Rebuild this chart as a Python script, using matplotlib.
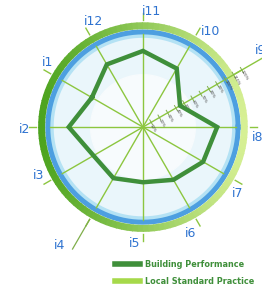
import matplotlib.pyplot as plt
import numpy as np
from matplotlib.lines import Line2D

# indicators, counter-clockwise starting upper left
labels = ['i1', 'i2', 'i3', 'i4', 'i5', 'i6', 'i7', 'i8', 'i9', 'i10', 'i11', 'i12']
angles_deg = [150, 180, 210, 240, 270, 300, 330, 0, 30, 60, 90, 120]
building = [0.62, 0.78, 0.60, 0.62, 0.58, 0.64, 0.73, 0.78, 0.45, 0.71, 0.80, 0.76]
local_std = 1.065
scale_ticks = [0.1, 0.2, 0.3, 0.4, 0.5, 0.6, 0.7, 0.8, 0.9, 1.0, 1.1, 1.2]
scale_labels = ['10%', '20%', '30%', '40%', '50%', '60%', '70%', '80%', '90%', '100%', '110%', '120%']

theta = np.deg2rad(angles_deg)

fig = plt.figure(figsize=(2.62, 2.88), dpi=100)
ax = fig.add_axes([0.0916, 0.1458, 0.908, 0.826], projection='polar')
ax.set_ylim(0, 1.25)
ax.set_axis_off()

full = np.linspace(0, 2 * np.pi, 361)

# pale interior
ax.fill(full, np.full_like(full, 0.99), color='#eaf6fb', zorder=0)
ax.fill(full, np.full_like(full, 0.55), color='#f7fbfd', zorder=0)
ax.plot(full, np.full_like(full, 0.96), color='#b4e2f4', lw=3, zorder=1)
# blue boundary ring
ax.plot(full, np.full_like(full, 1.0), color='#4d9fe0', lw=3.6, zorder=2)

# local standard practice ring, dark green on the left fading to pale on the right
dark = np.array([0.30, 0.64, 0.12])
pale = np.array([0.84, 0.94, 0.58])
n = 120
for k in range(n):
    t = np.linspace(2 * np.pi * k / n, 2 * np.pi * (k + 1) / n + 0.01, 5)
    w = (1 - np.cos(t.mean())) / 2
    c = pale + (dark - pale) * w
    ax.plot(t, np.full_like(t, local_std), color=c, lw=5, solid_capstyle='butt', zorder=2)

# spokes
for a in theta:
    ax.plot([a, a], [0, 0.98], color='#8cc63f', lw=1.0, zorder=3)
    ax.plot([a, a], [1.12, 1.2], color='#8cc63f', lw=1.0, zorder=3)
# longer spokes at i4 and i9
ax.plot([np.deg2rad(240)] * 2, [1.12, 1.48], color='#7fae4a', lw=0.9, zorder=3, clip_on=False)
ax.plot([np.deg2rad(30)] * 2, [1.0, 1.5], color='#8cc63f', lw=1.0, zorder=3, clip_on=False)

# percentage scale on the i9 axis
a9 = np.deg2rad(30)
for v, s in zip(scale_ticks, scale_labels):
    x, y = v * np.cos(a9), v * np.sin(a9)
    px, py = -np.sin(a9) * 0.03, np.cos(a9) * 0.03
    r1, t1 = np.hypot(x + px, y + py), np.arctan2(y + py, x + px)
    r2, t2 = np.hypot(x - px, y - py), np.arctan2(y - py, x - px)
    ax.plot([t1, t2], [r1, r2], color='#7fae4a', lw=0.7, zorder=4, clip_on=False)
    ax.text(a9 - 0.065 / max(v, 0.1), v, s, fontsize=2.9, rotation=-60,
            ha='center', va='center', color='#444444', zorder=4, clip_on=False)

# building performance polygon
ax.plot(np.append(theta, theta[0]), np.append(building, building[0]),
        color='#3f8f3a', lw=3.2, solid_joinstyle='miter', zorder=5)

# indicator labels
label_r = [1.21, 1.24, 1.21, 1.52, 1.23, 1.22, 1.21, 1.21, 1.47, 1.23, 1.22, 1.22]
label_a = [146, 181, 205, 235, 266, 294, 325, -5, 33, 55, 86, 115]
for s, a, r in zip(labels, label_a, label_r):
    ax.text(np.deg2rad(a), r, s, fontsize=9, color='#2f73d0',
            ha='center', va='center', clip_on=False)

handles = [Line2D([], [], color='#3f8f3a', lw=4),
           Line2D([], [], color='#a6d94a', lw=4)]
leg = fig.legend(handles, ['Building Performance', 'Local Standard Practice'],
                 loc='lower left', bbox_to_anchor=(0.42, -0.01), frameon=False,
                 fontsize=5.9, handlelength=3.0, handletextpad=0.7,
                 labelspacing=0.95, borderaxespad=0.2)
for t in leg.get_texts():
    t.set_color('#3f8f3a')
    t.set_fontweight('bold')

fig.savefig('out.png', dpi=100)
